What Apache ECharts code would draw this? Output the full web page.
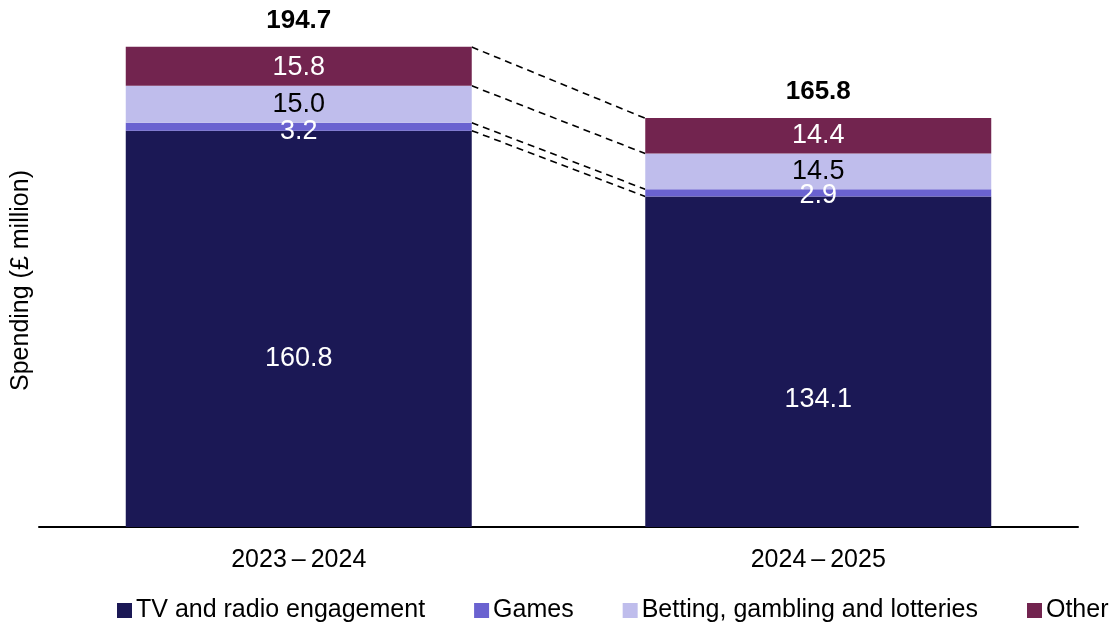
<!DOCTYPE html>
<html>
<head>
<meta charset="utf-8">
<script src="https://cdn.jsdelivr.net/npm/echarts@6/dist/echarts.min.js"></script>
<style>
  html, body { margin: 0; padding: 0; background: #ffffff; }
  #chart { width: 1111px; height: 623px; }
</style>
</head>
<body>
<div id="chart"></div>
<script>
// Spending by category, £ million
const periods = ['2023\u2009\u2013\u20092024', '2024\u2009\u2013\u20092025'];
const tvRadio = [160.8, 134.1];
const games = [3.2, 2.9];
const betting = [15.0, 14.5];
const other = [15.8, 14.4];
const totals = [194.7, 165.8];

const seriesNames = ['TV and radio engagement', 'Games', 'Betting, gambling and lotteries', 'Other'];
const colors = ['#1b1855', '#6a62d0', '#bfbdec', '#72244f'];
const labelColors = ['#ffffff', '#ffffff', '#000000', '#ffffff'];
const stacks = [tvRadio, games, betting, other];

// vertical nudges (px) for segment labels, per series and per period
const labelShift = [[30, 38], [5, 3], [0, 0], [1, 0]];

const FONT = '"Liberation Sans", Arial, sans-serif';
const BAR_FRACTION = 0.666;

// Segment boundaries for each period (cumulative tops), used for the dashed connectors
function boundaries(i) {
  let acc = 0;
  const out = [];
  stacks.forEach(s => { acc += s[i]; out.push(acc); });
  return out;
}
const b0 = boundaries(0);
const b1 = boundaries(1);
// Top line runs between the stated totals
const connectorData = [
  [0, tvRadio[0], tvRadio[1]],
  [0, b0[1], b1[1]],
  [0, b0[2], b1[2]],
  [0, totals[0], totals[1]]
];

const chart = echarts.init(document.getElementById('chart'), null, { renderer: 'canvas' });

const barSeries = stacks.map((values, k) => ({
  name: seriesNames[k],
  type: 'bar',
  stack: 'spend',
  barWidth: (BAR_FRACTION * 100) + '%',
  data: values.map((v, i) => ({ value: v, label: { offset: [0, labelShift[k][i]] } })),
  itemStyle: { color: colors[k] },
  label: {
    show: true,
    position: 'inside',
    color: labelColors[k],
    fontFamily: FONT,
    fontSize: 27,
    formatter: p => p.value.toFixed(1)
  },
  emphasis: { disabled: true },
  z: 3
}));

const option = {
  animation: false,
  backgroundColor: '#ffffff',
  grid: { left: 39, right: 33, top: 34, bottom: 96 },
  xAxis: {
    type: 'category',
    data: periods,
    axisLine: { lineStyle: { color: '#000000', width: 2 } },
    axisTick: { show: false },
    axisLabel: { color: '#000000', fontFamily: FONT, fontSize: 25, margin: 21 }
  },
  yAxis: {
    type: 'value',
    min: 0,
    max: 200,
    name: 'Spending (\u00a3 million)',
    nameLocation: 'middle',
    nameRotate: 90,
    nameGap: 5,
    nameTextStyle: { color: '#000000', fontFamily: FONT, fontSize: 25 },
    axisLine: { show: false },
    axisTick: { show: false },
    axisLabel: { show: false },
    splitLine: { show: false }
  },
  legend: {
    left: 112,
    bottom: -5,
    width: 1400,
    itemWidth: 15,
    itemHeight: 15,
    itemGap: 49,
    icon: 'rect',
    data: seriesNames,
    textStyle: { color: '#000000', fontFamily: FONT, fontSize: 25, padding: [0, 0, 0, -1] }
  },
  series: [
    ...barSeries,
    {
      // dashed connectors between the segment edges of the two bars
      name: 'connectors',
      type: 'custom',
      silent: true,
      z: 2,
      encode: { x: 0, y: [1, 2] },
      data: connectorData,
      renderItem: (params, api) => {
        const half = api.size([1, 0])[0] * BAR_FRACTION / 2;
        const p1 = api.coord([0, api.value(1)]);
        const p2 = api.coord([1, api.value(2)]);
        return {
          type: 'line',
          shape: { x1: p1[0] + half, y1: p1[1], x2: p2[0] - half, y2: p2[1] },
          style: { stroke: '#000000', lineWidth: 1.6, lineDash: [7, 5] }
        };
      }
    },
    {
      // stated totals above each bar
      name: 'totals',
      type: 'scatter',
      symbolSize: 0,
      silent: true,
      itemStyle: { opacity: 1 },
      data: totals,
      label: {
        show: true,
        position: 'top',
        distance: 13,
        color: '#000000',
        fontFamily: FONT,
        fontWeight: 'bold',
        fontSize: 26,
        formatter: p => p.value.toFixed(1)
      },
      z: 4
    }
  ]
};

chart.setOption(option);
</script>
</body>
</html>
